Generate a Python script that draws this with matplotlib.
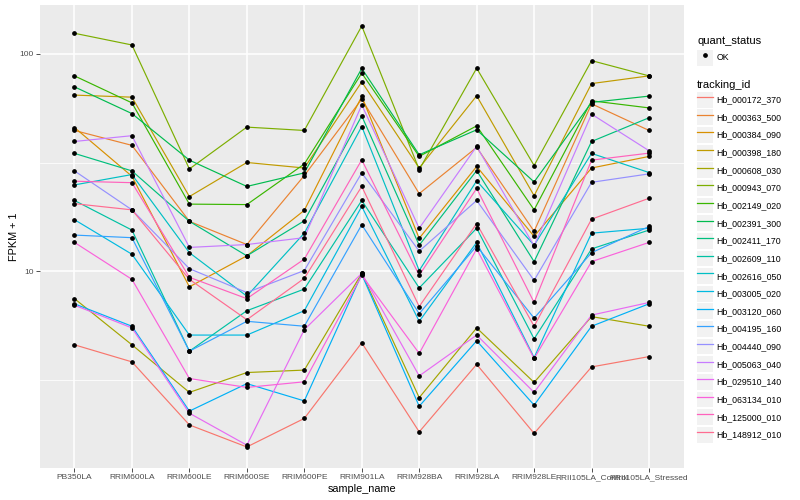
import matplotlib
matplotlib.use('Agg')
import matplotlib.pyplot as plt
from matplotlib.lines import Line2D
from matplotlib.patches import Patch
from matplotlib.legend_handler import HandlerTuple
from matplotlib.ticker import FixedLocator, NullFormatter
import numpy as np

plt.rcParams['font.family'] = ['Liberation Sans', 'DejaVu Sans']

samples = ['PB350LA', 'RRIM600LA', 'RRIM600LE', 'RRIM600SE', 'RRIM600PE', 'RRIM901LA',
           'RRIM928BA', 'RRIM928LA', 'RRIM928LE', 'RRII105LA_Control', 'RRII105LA_Stressed']

tracking_ids = ['Hb_000172_370', 'Hb_000363_500', 'Hb_000384_090', 'Hb_000398_180', 'Hb_000608_030',
                'Hb_000943_070', 'Hb_002149_020', 'Hb_002391_300', 'Hb_002411_170', 'Hb_002609_110',
                'Hb_002616_050', 'Hb_003005_020', 'Hb_003120_060', 'Hb_004195_160', 'Hb_004440_090',
                'Hb_005063_040', 'Hb_029510_140', 'Hb_063134_010', 'Hb_125000_010', 'Hb_148912_010']

# ggplot hue palette, 20 levels
colors = ['#F8766D', '#EA8331', '#D89000', '#C09B00', '#A3A500', '#7CAE00', '#39B600', '#00BB4E',
          '#00BF7D', '#00C1A3', '#00BFC4', '#00BAE0', '#00B0F6', '#35A2FF', '#9590FF', '#C77CFF',
          '#E76BF3', '#FA62DB', '#FF62BC', '#FF6C91']

# FPKM + 1, one list per gene, in sample order
hb_000172_370 = [4.6, 3.84, 1.97, 1.56, 2.11, 4.7, 1.83, 3.74, 1.80, 3.64, 4.06]
hb_000363_500 = [44.5, 38.0, 17.0, 13.3, 27.6, 62.0, 22.8, 37.2, 15.3, 59.0, 44.5]
hb_000384_090 = [45.9, 27.4, 8.5, 11.8, 19.1, 63.8, 14.2, 30.4, 14.5, 29.9, 33.8]
hb_000398_180 = [64.7, 63.3, 22.1, 31.7, 29.9, 74.4, 29.9, 64.2, 22.3, 73.1, 79.3]
hb_000608_030 = [7.5, 4.6, 2.78, 3.43, 3.52, 9.8, 2.63, 5.5, 3.09, 6.2, 5.6]
hb_000943_070 = [124.5, 110, 29.6, 46.1, 44.5, 134.4, 29.4, 86.0, 30.7, 93.2, 79.3]
hb_002149_020 = [79.3, 59.6, 20.4, 20.3, 31.2, 81.6, 33.8, 46.7, 19.2, 60.9, 56.5]
hb_002391_300 = [70.6, 53.2, 32.5, 24.6, 28.4, 85.8, 34.4, 44.8, 25.8, 59.9, 64.0]
hb_002411_170 = [34.9, 29.0, 17.0, 11.8, 17.1, 51.9, 13.2, 29.1, 11.1, 39.6, 50.9]
hb_002609_110 = [21.2, 15.5, 4.3, 6.6, 8.3, 21.2, 8.4, 15.8, 4.9, 12.7, 15.5]
hb_002616_050 = [25.0, 27.9, 12.2, 7.7, 15.0, 46.4, 10.1, 26.1, 13.2, 34.9, 28.5]
hb_003005_020 = [17.3, 12.0, 5.1, 5.1, 6.6, 19.9, 5.9, 13.6, 4.02, 15.0, 15.8]
hb_003120_060 = [7.1, 5.6, 2.28, 3.05, 2.54, 9.7, 2.40, 4.8, 2.43, 5.6, 7.1]
hb_004195_160 = [14.7, 14.3, 4.3, 5.9, 5.6, 16.4, 6.4, 13.1, 6.1, 12.2, 16.1]
hb_004440_090 = [29.0, 19.2, 10.3, 8.0, 10.1, 28.4, 12.4, 21.2, 9.1, 25.7, 28.1]
hb_005063_040 = [39.6, 42.1, 12.9, 13.3, 14.3, 58.3, 15.8, 37.6, 13.1, 52.9, 35.9]
hb_029510_140 = [7.0, 5.5, 2.23, 1.59, 5.4, 9.8, 3.31, 5.1, 2.78, 6.3, 7.2]
hb_063134_010 = [13.6, 9.2, 3.22, 2.93, 3.11, 9.6, 4.2, 12.7, 3.98, 11.1, 13.6]
hb_125000_010 = [26.0, 25.6, 9.4, 7.5, 11.4, 32.6, 9.6, 24.1, 7.2, 32.5, 35.0]
hb_148912_010 = [20.5, 19.2, 9.2, 6.0, 9.3, 24.6, 6.9, 16.6, 5.6, 17.4, 21.7]

fpkm = [hb_000172_370, hb_000363_500, hb_000384_090, hb_000398_180, hb_000608_030,
        hb_000943_070, hb_002149_020, hb_002391_300, hb_002411_170, hb_002609_110,
        hb_002616_050, hb_003005_020, hb_003120_060, hb_004195_160, hb_004440_090,
        hb_005063_040, hb_029510_140, hb_063134_010, hb_125000_010, hb_148912_010]

fig = plt.figure(figsize=(8, 5), dpi=100)
ax = fig.add_axes([40 / 800, 1 - 468 / 500, 643.5 / 800, 463 / 500])
ax.set_facecolor('#EBEBEB')
for s in ax.spines.values():
    s.set_visible(False)

x = np.arange(len(samples))
for vals, c in zip(fpkm, colors):
    ax.plot(x, vals, color=c, lw=0.85, zorder=2)
for vals in fpkm:
    ax.plot(x, vals, 'o', color='black', ms=2.4, zorder=3)

ax.set_yscale('log')
allv = np.log10(np.concatenate([np.array(v) for v in fpkm]))
lo, hi = allv.min(), allv.max()
pad = 0.05 * (hi - lo)
ax.set_ylim(10 ** (lo - pad), 10 ** (hi + pad))
ax.set_xlim(-0.6, len(samples) - 0.4)

ax.yaxis.set_major_locator(FixedLocator([10, 100]))
ax.yaxis.set_minor_locator(FixedLocator([10 ** 0.5, 10 ** 1.5]))
ax.yaxis.set_minor_formatter(NullFormatter())
ax.set_yticklabels(['10', '100'])
ax.set_xticks(x)
ax.set_xticklabels(samples)
ax.grid(which='major', color='white', lw=1.1, zorder=0)
ax.grid(which='minor', axis='y', color='white', lw=0.55, zorder=0)
ax.set_axisbelow(True)
ax.tick_params(axis='both', which='major', length=2.8, width=0.6, color='#333333',
               labelsize=6.0, labelcolor='#4D4D4D', pad=1.5)
ax.tick_params(axis='y', which='minor', length=0)

ax.set_xlabel('sample_name', fontsize=7.8, labelpad=2)
ax.set_ylabel('FPKM + 1', fontsize=7.8, labelpad=0.5)

key_bg = '#F2F2F2'
h1 = [(Patch(facecolor=key_bg, edgecolor='none'),
       Line2D([], [], marker='o', color='black', ls='none', ms=2.4))]
leg1 = fig.legend(h1, ['OK'], loc='upper left', bbox_to_anchor=(697 / 800, 1 - 35.5 / 500),
                  title='quant_status', frameon=False, fontsize=6.3, title_fontsize=8,
                  handlelength=1.85, handleheight=2.4, handletextpad=0.35, borderpad=0,
                  borderaxespad=0, alignment='left',
                  handler_map={tuple: HandlerTuple(ndivide=1)})

h2 = [(Patch(facecolor=key_bg, edgecolor='none'), Line2D([], [], color=c, lw=0.9)) for c in colors]
leg2 = fig.legend(h2, tracking_ids, loc='upper left', bbox_to_anchor=(697 / 800, 1 - 80 / 500),
                  title='tracking_id', frameon=False, fontsize=6.3, title_fontsize=8,
                  handlelength=1.85, handleheight=2.4, handletextpad=0.35, borderpad=0,
                  borderaxespad=0, labelspacing=0.21, alignment='left',
                  handler_map={tuple: HandlerTuple(ndivide=1)})

fig.savefig('out.png', dpi=100)
